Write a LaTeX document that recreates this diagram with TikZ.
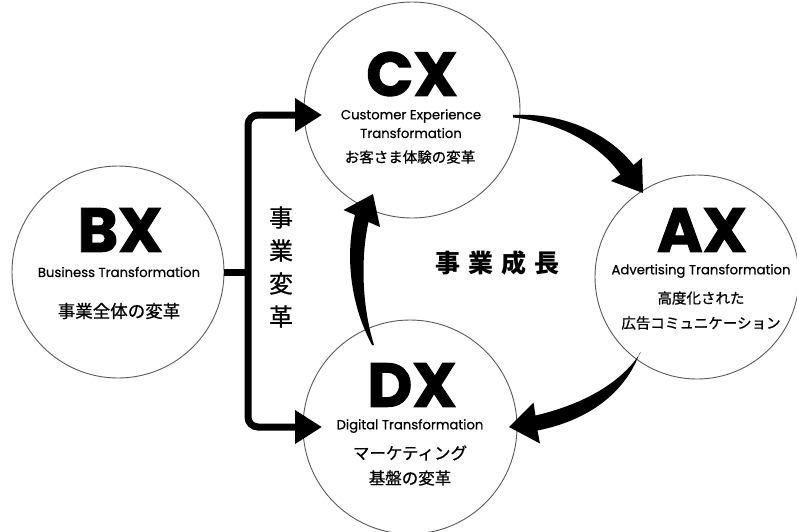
\documentclass[tikz,border=0pt]{standalone}
\usepackage{fontspec}
\usetikzlibrary{arrows.meta}
\newfontfamily\popf{Poppins}[FakeBold=0.5]
\newfontfamily\popb{Poppins}[BoldFeatures={FakeBold=1.6}]
\newfontfamily\jpf{Noto Sans CJK JP}[FakeBold=0.7]
\newfontfamily\jpl{Noto Sans CJK JP}
\tikzset{
  ring/.style={circle, draw=black!65, line width=0.9pt, inner sep=0pt, minimum size=#1},
  big/.style={font=\popb\bfseries\fontsize{62}{62}\selectfont, inner sep=0pt},
  sub/.style={font=\popf\fontsize{13.2}{15}\selectfont, inner sep=0pt},
  jp/.style={font=\jpf\fontsize{#1}{#1}\selectfont, inner sep=0pt},
  bar/.style={line width=7pt},
  bararrow/.style={bar, rounded corners=10pt, -{Triangle[length=27pt,width=32pt]}},
  fat/.style={fill=black, draw=none},
}
\begin{document}
\begin{tikzpicture}[x=1pt,y=-1pt]
\useasboundingbox (0,0) rectangle (797,531);

% circles
\node[ring=212pt] (bx) at (118,272) {};
\node[ring=216pt] (cx) at (412,110) {};
\node[ring=204pt] (ax) at (697,277) {};
\node[ring=214pt] (dx) at (410,427) {};

% BX text
\node[big] (bxt) at (120,230) {BX};
\node[sub] (bxs) at (119,272) {Business Transformation};
\node[jp=17.5] (bxj) at (119,311) {事業全体の変革};

% CX text
\node[big] (cxt) at (412,74) {CX};
\node[sub] (cxs1) at (411,116) {Customer Experience};
\node[sub] (cxs2) at (411,133) {Transformation};
\node[jp=14.5] (cxj) at (410,157) {お客さま体験の変革};

% AX text
\node[big] (axt) at (702,230) {AX};
\node[sub] (axs) at (701,271) {Advertising Transformation};
\node[jp=14.5] (axj1) at (701,298) {高度化された};
\node[jp=14.5] (axj2) at (701,323) {広告コミュニケーション};

% DX text
\node[big] (dxt) at (412,385) {DX};
\node[sub] (dxs) at (410,426) {Digital Transformation};
\node[jp=16.5] (dxj1) at (410,453) {マーケティング};
\node[jp=16.5] (dxj2) at (410,478) {基盤の変革};

% labels
\node[font=\jpf\fontsize{24}{33}\selectfont, align=center, inner sep=0pt] (henkaku) at (281,267) {事\\業\\変\\革};
\node[font=\jpl\bfseries\fontsize{25}{25}\selectfont, inner sep=0pt] (seicho) at (497,263) {事\hspace{8pt}業\hspace{8pt}成\hspace{8pt}長};

% bracket
\coordinate (bj) at (248,272);
\coordinate (cxin) at (322,115);
\coordinate (dxin) at (322,427);
\draw[bar] (bx.east) -- (bj);
\draw[bararrow] (bj) |- (cxin);
\draw[bararrow] (bj) |- (dxin);

% CX -> AX tapered arrow
\fill[fat] (513,115) .. controls (565,112) and (610,135) .. (633.5,165)
  -- (642,158) -- (643,193) -- (611,181) -- (620.5,174.5)
  .. controls (600,145) and (560,122) .. (513,117.5) -- cycle;

% DX -> CX tapered arrow
\fill[fat] (374,345) .. controls (360,300) and (362,250) .. (368.5,222)
  -- (380,227) -- (373,194) -- (343.5,210) -- (355,215)
  .. controls (346,250) and (348,300) .. (372,345) -- cycle;

% AX -> DX tapered arrow
\fill[fat] (641,352) .. controls (620,385) and (580,405) .. (535.5,415.5)
  -- (533.5,402.5) -- (509,427) -- (540,443.5) -- (537.5,430.5)
  .. controls (590,420) and (625,392) .. (639.5,353.5) -- cycle;
\end{tikzpicture}
\end{document}
